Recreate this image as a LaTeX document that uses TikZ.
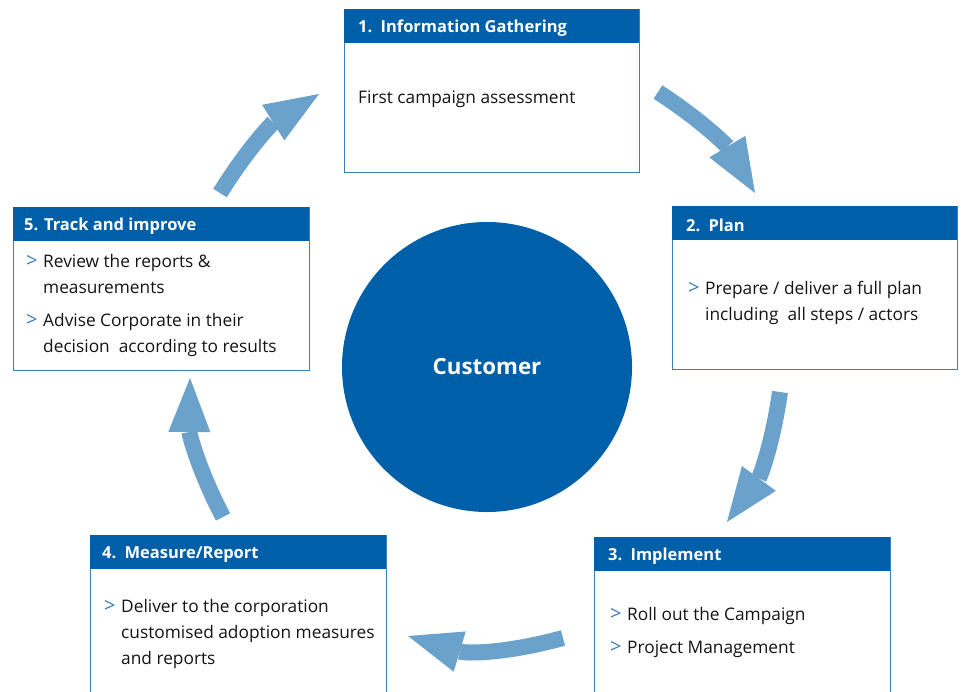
\documentclass[tikz,border=0pt]{standalone}
\usepackage{fontspec}
\setmainfont{Open Sans}
\usetikzlibrary{positioning,arrows.meta}

\definecolor{stepblue}{RGB}{0,95,169}
\definecolor{arrowblue}{RGB}{106,162,204}
\definecolor{edgeblue}{RGB}{60,125,190}

\tikzset{
  stepbox/.style={draw=edgeblue, line width=1pt, fill=white, rectangle, anchor=north west, inner sep=0pt},
  stephead/.style={fill=stepblue, rectangle, anchor=north west, inner sep=0pt, minimum height=34pt},
  headtext/.style={text=white, font=\bfseries\fontsize{16.5}{20}\selectfont, inner sep=0pt, anchor=west, yshift=-2pt},
  itemtext/.style={text=black!92, font=\fontsize{17.3}{26}\selectfont, inner sep=0pt, anchor=west, align=left, yshift=-1.5pt},
  flowarrow/.style={draw=arrowblue, line width=16pt, -{Triangle[width=42pt,length=54pt,line width=0pt]}},
}
\newcommand{\bl}{\makebox[17pt][l]{\textcolor{edgeblue}{\fontsize{20}{26}\selectfont >}}}

\begin{document}
\begin{tikzpicture}[x=1pt,y=-1pt]
\useasboundingbox (0,0) rectangle (963,691);
\clip (0,0) rectangle (963,691);

% customer in the middle
\node[circle, fill=stepblue, minimum size=290pt, inner sep=0pt, text=white,
      font=\bfseries\fontsize{22.3}{28}\selectfont] (cust) at (487,367) {Customer};

% 1. information gathering
\node[stepbox, minimum width=295pt, minimum height=163pt] (b1) at (344,9) {};
\node[stephead, minimum width=295pt] (h1) at (344,9) {};
\node[headtext, right=14pt of h1.west] (t1) {1.\enspace Information Gathering};
\node[itemtext] (i1) at (358,98) {First campaign assessment};

% 2. plan
\node[stepbox, minimum width=285pt, minimum height=163pt] (b2) at (672,206) {};
\node[stephead, minimum width=285pt] (h2) at (672,206) {};
\node[headtext, right=14pt of h2.west] (t2) {2.\enspace Plan};
\node[itemtext] (i2) at (688,301) {\begin{tabular}{@{}l@{}l@{}}
  \bl & Prepare / deliver a full plan\\
      & including~ all steps / actors
\end{tabular}};

% 3. implement
\node[stepbox, minimum width=296pt, minimum height=170pt] (b3) at (594,537) {};
\node[stephead, minimum width=296pt] (h3) at (594,537) {};
\node[headtext, right=14pt of h3.west] (t3) {3.\enspace Implement};
\node[itemtext] (i3) at (610,630.5) {\begin{tabular}{@{}l@{}l@{}}
  \bl & Roll out the Campaign\\[7pt]
  \bl & Project Management
\end{tabular}};

% 4. measure/report
\node[stepbox, minimum width=296pt, minimum height=170pt] (b4) at (90,535) {};
\node[stephead, minimum width=296pt] (h4) at (90,535) {};
\node[headtext, right=12pt of h4.west] (t4) {4.\enspace Measure/Report};
\node[itemtext] (i4) at (104,632) {\begin{tabular}{@{}l@{}l@{}}
  \bl & Deliver to the corporation\\
      & customised adoption measures\\
      & and reports
\end{tabular}};

% 5. track and improve
\node[stepbox, minimum width=296pt, minimum height=163pt] (b5) at (13,207) {};
\node[stephead, minimum width=296pt] (h5) at (13,207) {};
\node[headtext, right=11pt of h5.west] (t5) {5. Track and improve};
\node[itemtext] (i5) at (26,303.5) {\begin{tabular}{@{}l@{}l@{}}
  \bl & Review the reports \&\\
      & measurements\\[7pt]
  \bl & Advise Corporate in their\\
      & decision~ according to results
\end{tabular}};

% cycle arrows
\coordinate (a12s) at (658,92);  \coordinate (a12e) at (755,193);
\coordinate (a23s) at (780,392); \coordinate (a23e) at (727,522);
\coordinate (a34s) at (563,638); \coordinate (a34e) at (408,636);
\coordinate (a45s) at (223,517); \coordinate (a45e) at (190,378);
\coordinate (a51s) at (220,193); \coordinate (a51e) at (319,94);

\draw[flowarrow] (a12s) to[bend left=13] (a12e);
\draw[flowarrow] (a23s) to[bend left=14] (a23e);
\draw[flowarrow] (a34s) to[bend left=16] (a34e);
\draw[flowarrow] (a45s) to[bend left=14] (a45e);
\draw[flowarrow] (a51s) to[bend left=13] (a51e);
\end{tikzpicture}
\end{document}
